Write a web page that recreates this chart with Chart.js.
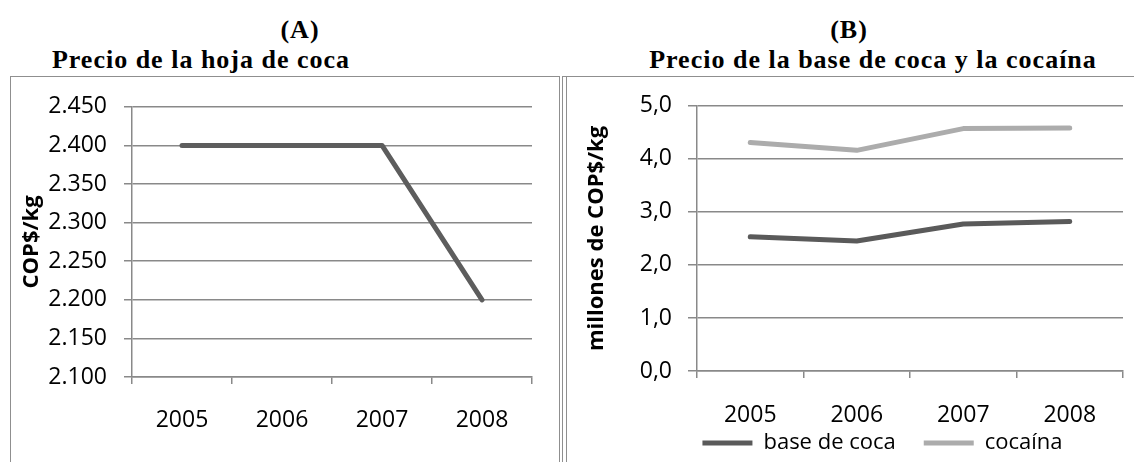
<!DOCTYPE html>
<html>
<head>
<meta charset="utf-8">
<script src="https://cdn.jsdelivr.net/npm/chart.js@4.4.1/dist/chart.umd.min.js"></script>
<style>
  html, body { margin: 0; padding: 0; background: #fff; width: 1134px; height: 462px; overflow: hidden; position: relative; }
  .ttl { position: absolute; font-family: "Liberation Serif", serif; font-weight: bold; font-size: 26px; letter-spacing: 1px;
         line-height: 30px; color: #000; white-space: nowrap; transform: translateX(-50%); }
  .box { position: absolute; border: 1px solid #8f8f8f; box-sizing: border-box; }
  .wrap { position: absolute; }
</style>
</head>
<body>
<!-- titles -->
<div class="ttl" style="left:300px; top:15px;">(A)</div>
<div class="ttl" style="left:201px; top:45px;">Precio de la hoja de coca</div>
<div class="ttl" style="left:849px; top:15px;">(B)</div>
<div class="ttl" style="left:873px; top:45px;">Precio de la base de coca y la cocaína</div>

<!-- chart frames -->
<div class="box" style="left:10px; top:76px; width:550px; height:420px;"></div>
<div class="box" style="left:562px; top:76px; width:600px; height:420px; border-right:none;"></div>
<div class="box" style="left:566px; top:76px; width:600px; height:420px; border-right:none;"></div>

<div class="wrap" style="left:10px; top:76px; width:549px; height:386px;"><canvas id="chartA"></canvas></div>
<div class="wrap" style="left:566px; top:76px; width:568px; height:415px;"><canvas id="chartB"></canvas></div>

<script>
// categories shared by both panels
const years = ['2005', '2006', '2007', '2008'];

// (A) coca leaf price, COP$/kg
const hojaCoca = [2400, 2400, 2400, 2200];
const ticksA = [2100, 2150, 2200, 2250, 2300, 2350, 2400, 2450];

// (B) coca base and cocaine price, millions of COP$/kg
const baseCoca = [2.53, 2.45, 2.77, 2.82];
const cocaina = [4.31, 4.16, 4.57, 4.58];
const ticksB = [0, 1, 2, 3, 4, 5];

const GRID = '#898989';

Chart.defaults.font.family = "'Open Sans', sans-serif";
Chart.defaults.font.size = 23;
Chart.defaults.color = '#000';

// nudge the bottom legend so it sits where the original one is
const legendShift = {
  id: 'legendShift',
  afterLayout(chart) {
    const o = chart.options.plugins.legendShift;
    const l = chart.legend;
    if (!o || !l) return;
    l.left += o.dx; l.right += o.dx;
    l.top += o.dy; l.bottom += o.dy;
  }
};

// x axis: category ticks between years, no vertical grid lines
function xAxis(labelPad, height) {
  return {
    offset: true,
    grid: { display: true, drawOnChartArea: false, drawTicks: true, tickLength: 7, offset: true, color: GRID, lineWidth: 1.5 },
    border: { display: true, color: GRID, width: 1.5 },
    ticks: { padding: labelPad, maxRotation: 0, autoSkip: false },
    afterFit: (s) => { s.height = height; }
  };
}

window.onload = () => {
  // Panel A
  new Chart(document.getElementById('chartA'), {
    type: 'line',
    data: {
      labels: years,
      datasets: [{
        label: 'hoja de coca',
        data: hojaCoca,
        borderColor: '#5d5d5d',
        borderWidth: 5,
        borderCapStyle: 'round',
        borderJoinStyle: 'round',
        pointRadius: 0,
        tension: 0
      }]
    },
    options: {
      responsive: true,
      maintainAspectRatio: false,
      animation: false,
      layout: { padding: { top: 29, right: 27, left: 0, bottom: 0 } },
      plugins: { legend: { display: false }, tooltip: { enabled: false } },
      scales: {
        x: xAxis(23, 85),
        y: {
          min: ticksA[0],
          max: ticksA[ticksA.length - 1],
          afterBuildTicks: (s) => { s.ticks = ticksA.map(v => ({ value: v })); },
          grid: { color: GRID, lineWidth: 1.5, tickLength: 8 },
          border: { display: true, color: GRID, width: 1.5 },
          ticks: { padding: 17, callback: (v) => v.toLocaleString('de-DE') },
          title: { display: true, text: 'COP$/kg', font: { weight: 'bold', size: 22 }, padding: { top: 9, bottom: 0 } },
          afterFit: (s) => { s.width = 122; }
        }
      }
    }
  });

  // Panel B
  new Chart(document.getElementById('chartB'), {
    type: 'line',
    data: {
      labels: years,
      datasets: [
        {
          label: 'base de coca',
          data: baseCoca,
          borderColor: '#5a5a5a',
          backgroundColor: '#5a5a5a',
          borderWidth: 5,
          borderCapStyle: 'round',
          borderJoinStyle: 'round',
          pointRadius: 0,
          tension: 0
        },
        {
          label: 'cocaína',
          data: cocaina,
          borderColor: '#acacac',
          backgroundColor: '#acacac',
          borderWidth: 5,
          borderCapStyle: 'round',
          borderJoinStyle: 'round',
          pointRadius: 0,
          tension: 0
        }
      ]
    },
    options: {
      responsive: true,
      maintainAspectRatio: false,
      animation: false,
      layout: { padding: { top: 26, right: 11, left: 0, bottom: 0 } },
      plugins: {
        tooltip: { enabled: false },
        legendShift: { dx: 38, dy: -27 },
        legend: {
          position: 'bottom',
          labels: {
            usePointStyle: true,
            pointStyle: 'line',
            pointStyleWidth: 50,
            padding: 28,
            color: '#000',
            font: { size: 22 }
          }
        }
      },
      scales: {
        x: xAxis(24, 60),
        y: {
          min: ticksB[0],
          max: ticksB[ticksB.length - 1],
          afterBuildTicks: (s) => { s.ticks = ticksB.map(v => ({ value: v })); },
          grid: { color: GRID, lineWidth: 1.5, tickLength: 9 },
          border: { display: true, color: GRID, width: 1.5 },
          ticks: { padding: 16, callback: (v) => v.toFixed(1).replace('.', ',') },
          title: { display: true, text: 'millones de COP$/kg', font: { weight: 'bold', size: 22 }, padding: { top: 18, bottom: 0 } },
          afterFit: (s) => { s.width = 131; }
        }
      }
    },
    plugins: [legendShift]
  });
};
</script>
</body>
</html>
